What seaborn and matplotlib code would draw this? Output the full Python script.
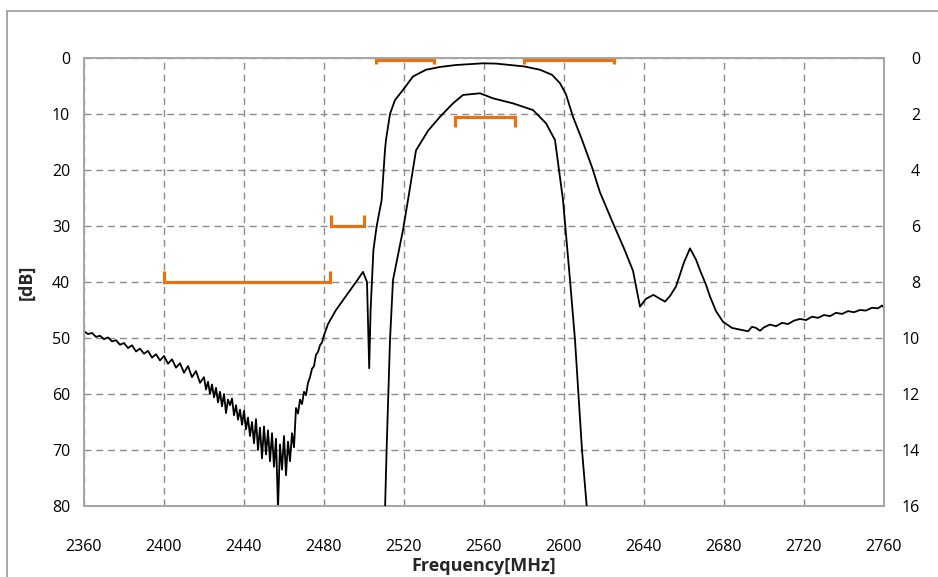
import matplotlib
matplotlib.use('Agg')
import matplotlib.pyplot as plt
import matplotlib.patches as patches
import seaborn as sns
import pandas as pd

# wide-band response (left axis, dB)
wide_freq = [2360, 2362, 2364, 2366, 2368, 2370, 2372, 2374, 2376, 2378,
             2380, 2382, 2384, 2386, 2388, 2390, 2392, 2394, 2396, 2398,
             2400, 2402, 2404, 2406, 2408, 2410, 2412, 2414, 2416, 2418,
             2420, 2421, 2422, 2423, 2424, 2425, 2426, 2427, 2428, 2429,
             2430, 2431, 2432, 2433, 2434, 2435, 2436, 2437, 2438, 2439,
             2440, 2441, 2442, 2443, 2444, 2445, 2446, 2447, 2448, 2449,
             2450, 2451, 2452, 2453, 2454, 2455, 2456, 2457, 2458, 2459,
             2460, 2461, 2462, 2463, 2464, 2465, 2466, 2467, 2468, 2469,
             2470, 2471, 2472, 2473, 2474, 2475, 2476, 2477, 2478, 2479,
             2480, 2482, 2486, 2490, 2494, 2497, 2499.5, 2501.5, 2502.6, 2503.3,
             2504.7, 2506.3, 2508.8, 2510.5, 2511, 2513, 2515.5, 2519.5, 2524.5, 2531,
             2538, 2546, 2559.5, 2566, 2573, 2580, 2588, 2594, 2598, 2601,
             2604.5, 2609, 2614, 2618, 2624.5, 2630, 2634.5, 2638, 2641, 2644.7,
             2648, 2650.5, 2653, 2656, 2660, 2663, 2666, 2668, 2671, 2673,
             2676, 2679.5, 2684, 2689.5, 2692, 2694, 2696, 2698, 2700, 2703,
             2706, 2709, 2712, 2715, 2718, 2721, 2724, 2727, 2730, 2733,
             2736, 2739, 2742, 2745, 2748, 2751, 2754, 2757, 2759, 2760]
wide_db = [48.8, 49.3, 49.1, 49.8, 49.6, 50.2, 49.9, 50.6, 50.4, 51.2,
           50.9, 51.8, 51.3, 52.4, 51.9, 52.8, 52.3, 53.5, 52.9, 54.0,
           53.2, 54.6, 53.8, 55.3, 54.5, 56.2, 55.0, 57.0, 55.9, 58.0,
           57.0, 59.2, 57.8, 60.0, 58.3, 60.6, 58.9, 61.5, 59.6, 62.2,
           60.0, 63.4, 61.0, 62.0, 60.8, 63.8, 62.0, 64.6, 62.8, 65.5,
           63.0, 66.3, 64.2, 67.5, 65.0, 68.8, 64.5, 70.0, 66.0, 71.5,
           65.8, 70.8, 66.5, 72.0, 67.0, 73.0, 68.0, 80.5, 69.0, 73.5,
           67.5, 74.5, 68.5, 72.0, 67.0, 69.5, 62.5, 63.5, 61.0, 61.8,
           59.6, 60.2, 58.0, 57.0, 55.5, 55.0, 53.0, 52.5, 51.3, 50.8,
           49.5, 47.5, 45.0, 43.0, 41.0, 39.5, 38.2, 40.0, 55.4, 45.0,
           34.3, 30.1, 25.4, 16.4, 14.6, 10.0, 7.5, 5.7, 3.3, 2.1,
           1.6, 1.25, 0.95, 1.0, 1.25, 1.5, 2.1, 3.0, 4.5, 6.5,
           10.5, 14.6, 19.5, 24.0, 29.5, 34.0, 38.0, 44.4, 43.0, 42.3,
           43.0, 43.5, 42.5, 40.8, 36.5, 34.0, 36.0, 37.9, 40.5, 42.6,
           45.2, 47.1, 48.2, 48.6, 48.8, 48.0, 48.2, 48.7, 48.1, 47.6,
           47.9, 47.3, 47.5, 46.9, 46.6, 46.8, 46.2, 46.4, 45.9, 46.1,
           45.5, 45.7, 45.2, 45.4, 45.0, 45.1, 44.6, 44.7, 44.2, 44.6]

# passband zoom (right axis, dB)
pass_freq = [2510.0, 2511.3, 2513, 2514.5, 2519.5, 2522, 2526, 2532, 2538, 2544.5,
             2549.5, 2558, 2564.5, 2574.5, 2584.5, 2591, 2595.5, 2599.5, 2603, 2605.5,
             2609, 2611.3, 2612.5]
pass_db = [17.5, 14.0, 10.07, 7.93, 6.14, 5.07, 3.3, 2.6, 2.1, 1.62,
           1.32, 1.26, 1.44, 1.62, 1.86, 2.33, 2.93, 5.07, 7.93, 10.07,
           14.0, 15.96, 17.5]

# spec masks: start, stop, level, end-tick direction
mask_left_start = [2400, 2483.5, 2506, 2580]
mask_left_stop = [2483, 2500, 2535, 2625]
mask_left_level = [40, 30, 0.3, 0.3]
mask_left_tick = [-2, -2, 0.8, 0.8]
mask_right_start = [2545.5]
mask_right_stop = [2575.5]
mask_right_level = [2.1]
mask_right_tick = [0.35]

x_ticks = list(range(2360, 2761, 40))
left_ticks = list(range(0, 81, 10))
right_ticks = list(range(0, 17, 2))

ORANGE = '#E8720F'
GRID = '#8C8C8C'
SPINE = '#A6A6A6'


def draw_masks(ax, starts, stops, levels, ticks):
    for x0, x1, y, t in zip(starts, stops, levels, ticks):
        ax.plot([x0, x0, x1, x1], [y + t, y, y, y + t], color=ORANGE,
                lw=2.3, solid_capstyle='butt', solid_joinstyle='miter', zorder=4)


def main():
    sns.set_theme(style='white')
    plt.rcParams['font.family'] = ['Open Sans', 'DejaVu Sans']

    fig = plt.figure(figsize=(9.38, 5.77), dpi=100)
    ax = fig.add_axes([84 / 938, 1 - 506 / 577, 800 / 938, 448 / 577])
    ax2 = ax.twinx()

    wide = pd.DataFrame({'freq': wide_freq, 'db': wide_db})
    narrow = pd.DataFrame({'freq': pass_freq, 'db': pass_db})
    sns.lineplot(data=wide, x='freq', y='db', ax=ax, color='black', lw=1.3,
                 estimator=None, sort=False, zorder=3)
    sns.lineplot(data=narrow, x='freq', y='db', ax=ax2, color='black', lw=1.3,
                 estimator=None, sort=False, zorder=3)

    draw_masks(ax, mask_left_start, mask_left_stop, mask_left_level, mask_left_tick)
    draw_masks(ax2, mask_right_start, mask_right_stop, mask_right_level, mask_right_tick)

    ax.set_xlim(2360, 2760)
    ax.set_ylim(80, 0)
    ax2.set_ylim(16, 0)
    ax.set_xticks(x_ticks)
    ax.set_yticks(left_ticks)
    ax2.set_yticks(right_ticks)

    ax.grid(True, color=GRID, lw=1.0, linestyle=(0, (5, 3.5)))
    ax2.grid(False)
    for a in (ax, ax2):
        for s in a.spines.values():
            s.set_color(SPINE)
            s.set_linewidth(1.3)

    ax.tick_params(axis='x', length=0, pad=24, labelsize=11.5, labelcolor='black')
    ax.tick_params(axis='y', length=0, pad=10, labelsize=11.5, labelcolor='black')
    ax2.tick_params(axis='y', length=0, pad=26, labelsize=11.5, labelcolor='black')
    for lab in ax2.get_yticklabels():
        lab.set_horizontalalignment('right')

    ax.set_xlabel('Frequency[MHz]', fontsize=13, fontweight='bold')
    ax.set_ylabel('[dB]', fontsize=13, fontweight='bold')
    ax2.set_ylabel('')
    ax.xaxis.set_label_coords(0.5, -0.113)
    ax.yaxis.set_label_coords(-0.06, 0.5)

    # outer chart border
    border = patches.Rectangle((7 / 938, -0.2), 1.2, 1 - 11 / 577 + 0.2,
                               transform=fig.transFigure, fill=False,
                               edgecolor='#A0A0A0', lw=1.3, clip_on=False)
    fig.patches.append(border)

    fig.savefig('out.png', dpi=100, facecolor='white')
    plt.close(fig)


if __name__ == '__main__':
    main()
